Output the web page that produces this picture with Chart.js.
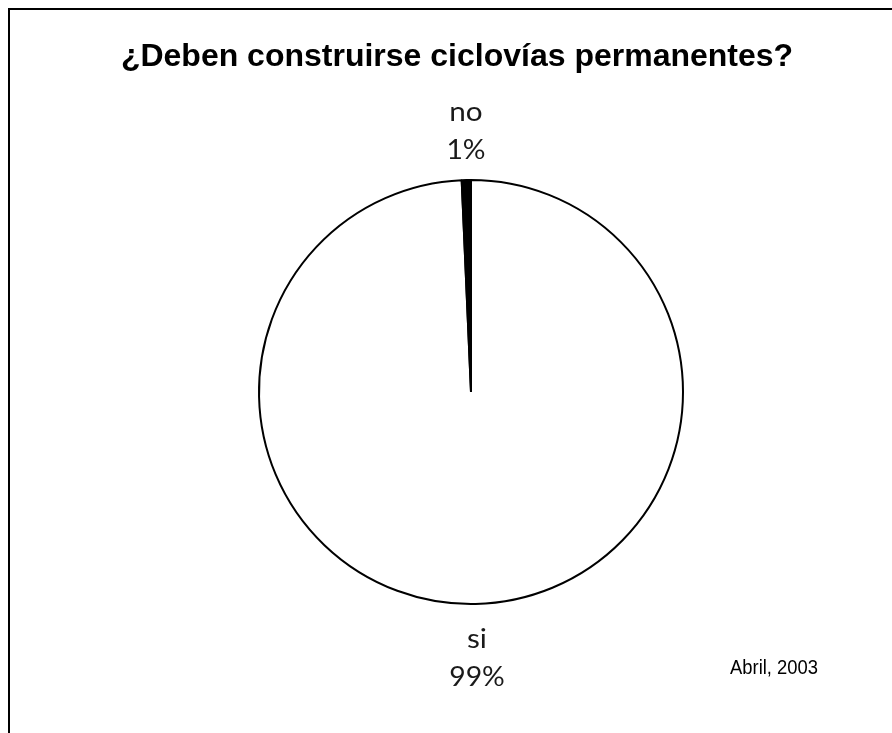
<!DOCTYPE html>
<html>
<head>
<meta charset="utf-8">
<script src="https://cdn.jsdelivr.net/npm/chart.js@4.4.1/dist/chart.umd.min.js"></script>
<style>
  html, body { margin: 0; padding: 0; background: #fff; }
  #wrap { width: 892px; height: 733px; }
</style>
</head>
<body>
<div id="wrap"><canvas id="myChart" width="892" height="733"></canvas></div>
<script>
// datos
var categorias = ['si', 'no'];
var valores = [99.3, 0.7];
var etiquetas = ['99%', '1%'];
var titulo = '¿Deben construirse ciclovías permanentes?';
var nota = 'Abril, 2003';

// texto con ancho escalado (para imitar fuentes anchas / estrechas)
function texto(ctx, s, x, y, sx) {
  ctx.save();
  ctx.translate(x, y);
  ctx.scale(sx, 1);
  ctx.fillText(s, 0, 0);
  ctx.restore();
}

var textos = {
  id: 'textos',
  beforeDraw: function(chart) {
    var ctx = chart.ctx;
    ctx.save();
    ctx.fillStyle = '#fff';
    ctx.fillRect(0, 0, chart.width, chart.height);
    ctx.strokeStyle = '#000';
    ctx.lineWidth = 2;
    ctx.strokeRect(9, 9, chart.width + 20, chart.height + 20);
    ctx.restore();
  },
  afterDraw: function(chart) {
    var ctx = chart.ctx;
    ctx.save();
    ctx.fillStyle = '#000';
    ctx.textAlign = 'center';
    ctx.textBaseline = 'alphabetic';
    ctx.font = 'bold 32px "Liberation Sans", Arial, sans-serif';
    ctx.fillText(titulo, 457, 66);

    ctx.font = '27px Lato, "Open Sans", sans-serif';
    ctx.fillStyle = '#1a1a1a';
    // no (arriba)
    texto(ctx, categorias[1], 466, 121, 1.1);
    texto(ctx, etiquetas[1], 466, 159, 1.05);
    // si (abajo)
    texto(ctx, categorias[0], 477, 648, 1.1);
    texto(ctx, etiquetas[0], 477, 686, 1.05);

    ctx.textAlign = 'right';
    ctx.fillStyle = '#000';
    ctx.font = '20px "Liberation Sans Narrow", "Liberation Sans", Arial, sans-serif';
    texto(ctx, nota, 818, 674, 0.92);
    ctx.restore();
  }
};

var ctx = document.getElementById('myChart').getContext('2d');
var chartInstance = new Chart(ctx, {
  type: 'pie',
  data: {
    labels: categorias,
    datasets: [{
      data: valores,
      backgroundColor: ['#ffffff', '#000000'],
      borderColor: '#000000',
      borderWidth: 2,
      hoverOffset: 0,
      offset: 0
    }]
  },
  options: {
    responsive: false,
    animation: false,
    events: [],
    layout: { padding: { left: 258, right: 208, top: 179, bottom: 128 } },
    plugins: {
      legend: { display: false },
      tooltip: { enabled: false }
    }
  },
  plugins: [textos]
});
</script>
</body>
</html>
